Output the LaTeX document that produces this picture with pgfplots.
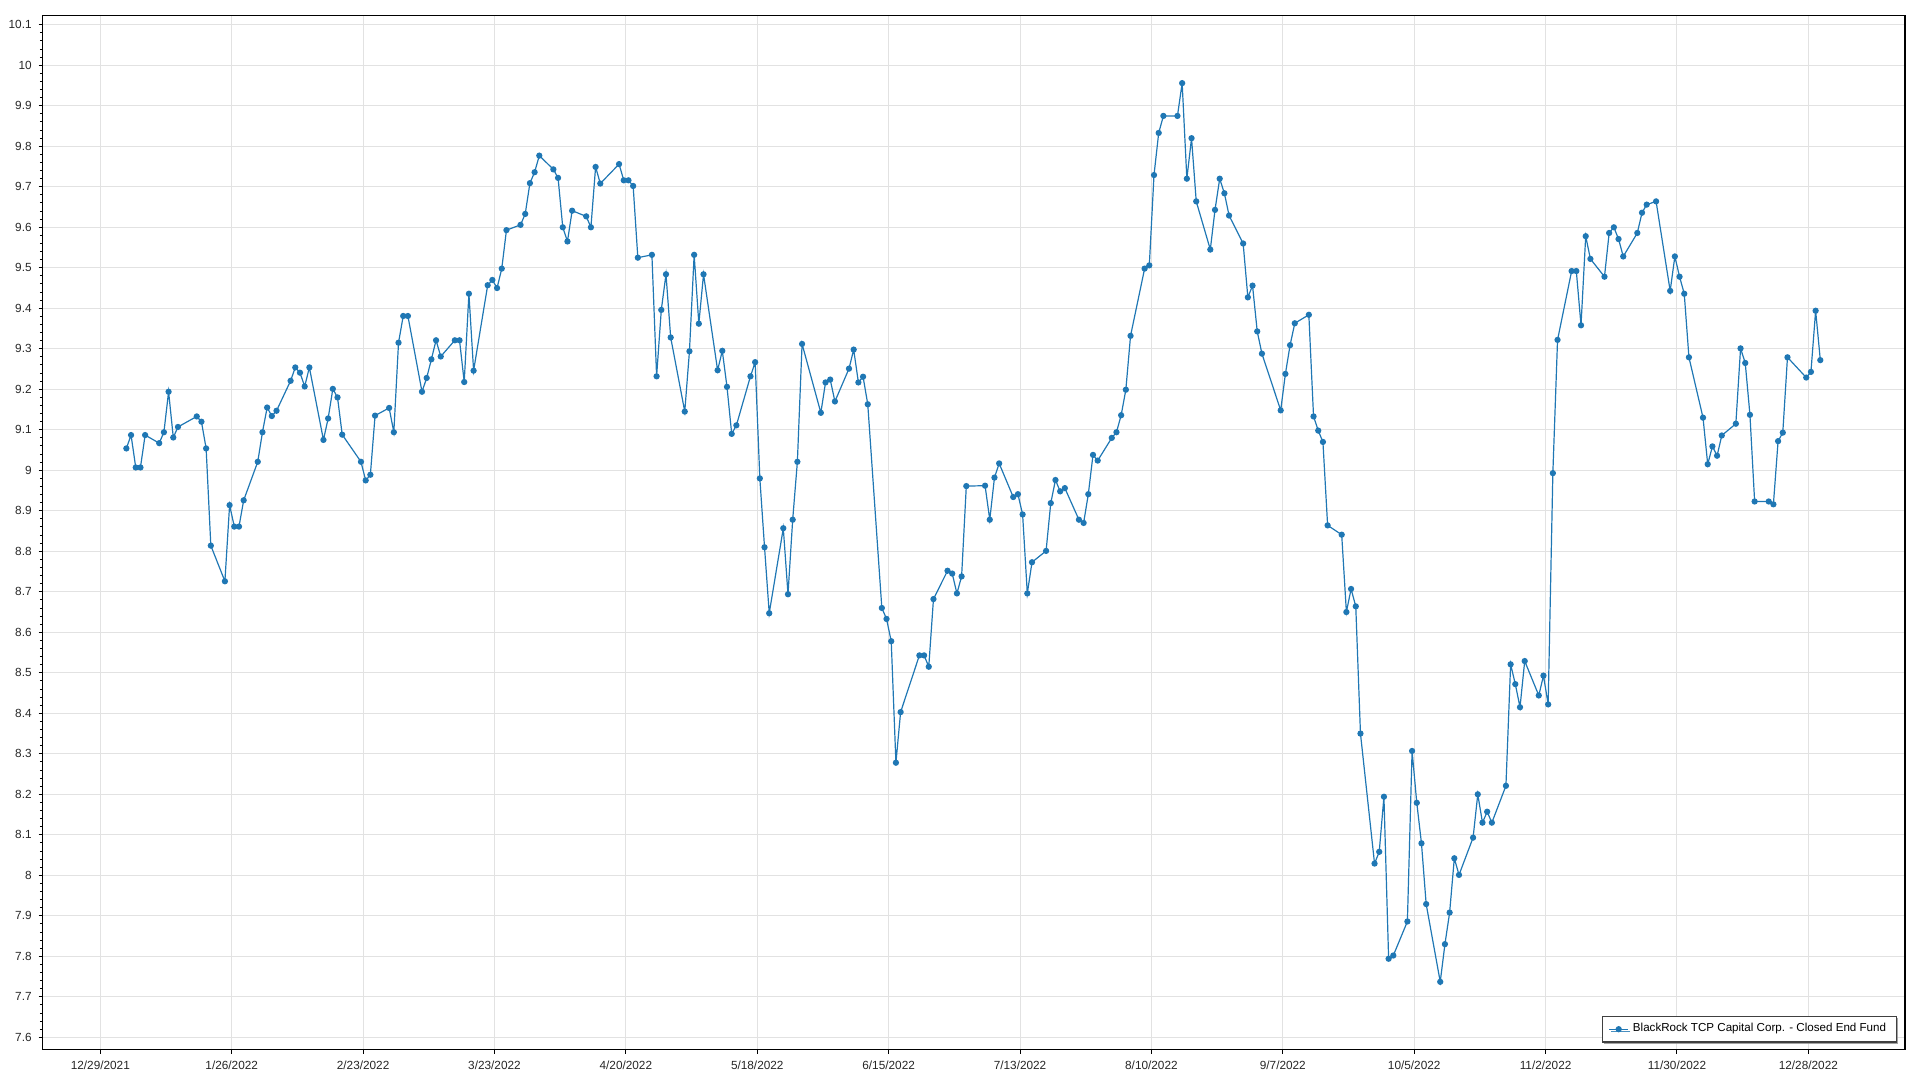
\documentclass[border=0pt]{standalone}
\usepackage{fontspec}
\setmainfont{Liberation Sans}
\usepackage{pgfplots}
\pgfplotsset{compat=1.18}
\usepackage{pgfplotstable}
\usetikzlibrary{shadows}
\definecolor{series}{RGB}{31,119,180}
\definecolor{gridc}{RGB}{226,226,226}

\pgfplotstableread{
d v
5 9.054
6 9.087
7 9.007
8 9.007
9 9.087
12 9.067
13 9.094
14 9.194
15 9.081
16 9.107
20 9.133
21 9.120
22 9.054
23 8.814
26 8.726
27 8.914
28 8.861
29 8.861
30 8.926
33 9.021
34 9.094
35 9.155
36 9.134
37 9.147
40 9.221
41 9.254
42 9.241
43 9.207
44 9.254
47 9.075
48 9.128
49 9.201
50 9.180
51 9.088
55 9.021
56 8.975
57 8.989
58 9.135
61 9.154
62 9.094
63 9.315
64 9.381
65 9.381
68 9.194
69 9.228
70 9.274
71 9.321
72 9.281
75 9.321
76 9.321
77 9.218
78 9.436
79 9.246
82 9.457
83 9.470
84 9.450
85 9.498
86 9.593
89 9.606
90 9.633
91 9.709
92 9.736
93 9.777
96 9.743
97 9.722
98 9.600
99 9.565
100 9.641
103 9.627
104 9.600
105 9.749
106 9.708
110 9.756
111 9.716
112 9.716
113 9.702
114 9.525
117 9.532
118 9.232
119 9.396
120 9.484
121 9.328
124 9.145
125 9.294
126 9.532
127 9.362
128 9.484
131 9.247
132 9.295
133 9.206
134 9.090
135 9.111
138 9.232
139 9.267
140 8.980
141 8.810
142 8.647
145 8.857
146 8.694
147 8.878
148 9.021
149 9.312
153 9.142
154 9.217
155 9.224
156 9.170
159 9.251
160 9.298
161 9.217
162 9.231
163 9.163
166 8.660
167 8.633
168 8.578
169 8.278
170 8.403
174 8.543
175 8.543
176 8.515
177 8.682
180 8.752
181 8.745
182 8.696
183 8.738
184 8.961
188 8.962
189 8.878
190 8.982
191 9.017
194 8.934
195 8.941
196 8.891
197 8.696
198 8.773
201 8.801
202 8.919
203 8.976
204 8.948
205 8.956
208 8.878
209 8.870
210 8.941
211 9.038
212 9.024
215 9.080
216 9.094
217 9.136
218 9.199
219 9.332
222 9.498
223 9.506
224 9.729
225 9.833
226 9.875
229 9.875
230 9.956
231 9.720
232 9.820
233 9.664
236 9.545
237 9.643
238 9.720
239 9.684
240 9.629
243 9.560
244 9.427
245 9.456
246 9.343
247 9.288
251 9.148
252 9.238
253 9.309
254 9.363
257 9.384
258 9.133
259 9.098
260 9.070
261 8.864
264 8.841
265 8.650
266 8.707
267 8.664
268 8.350
271 8.029
272 8.058
273 8.194
274 7.794
275 7.802
278 7.886
279 8.307
280 8.179
281 8.079
282 7.929
285 7.737
286 7.830
287 7.908
288 8.042
289 8.001
292 8.093
293 8.200
294 8.130
295 8.157
296 8.130
299 8.221
300 8.521
301 8.472
302 8.415
303 8.529
306 8.444
307 8.493
308 8.422
309 8.993
310 9.322
313 9.492
314 9.492
315 9.358
316 9.578
317 9.522
320 9.478
321 9.586
322 9.600
323 9.571
324 9.528
327 9.586
328 9.636
329 9.656
331 9.664
334 9.443
335 9.528
336 9.478
337 9.436
338 9.279
341 9.130
342 9.015
343 9.059
344 9.036
345 9.086
348 9.115
349 9.301
350 9.265
351 9.137
352 8.923
355 8.923
356 8.916
357 9.072
358 9.093
359 9.279
363 9.229
364 9.243
365 9.394
366 9.272
}\datatable

\begin{document}
\begin{tikzpicture}
\begin{axis}[
  scale only axis,
  width=931.15pt, height=517pt,
  xmin=-12.28, xmax=384.6,
  ymin=7.5694, ymax=10.1225,
  xtick={0,28,56,84,112,140,168,196,224,252,280,308,336,364},
  xticklabels={12/29/2021,1/26/2022,2/23/2022,3/23/2022,4/20/2022,5/18/2022,6/15/2022,7/13/2022,8/10/2022,9/7/2022,10/5/2022,11/2/2022,11/30/2022,12/28/2022},
  ytick={7.6,7.7,7.8,7.9,8.0,8.1,8.2,8.3,8.4,8.5,8.6,8.7,8.8,8.9,9.0,9.1,9.2,9.3,9.4,9.5,9.6,9.7,9.8,9.9,10.0,10.1},
  minor y tick num=4,
  grid=major,
  major grid style={gridc, line width=0.5pt},
  tick align=outside,
  tick pos=left,
  major tick length=2pt,
  minor tick length=1.4pt,
  tick style={black, line width=0.5pt},
  axis line style={black, line width=0.75pt},
  ticklabel style={font=\fontsize{5.9}{7}\selectfont, text=black!85},
  /pgf/number format/assume math mode=true,
  yticklabel style={/pgf/number format/fixed, /pgf/number format/precision=1},
  legend style={at={(axis description cs:1,0)}, anchor=south east, xshift=-4.15pt, yshift=3.5pt,
    draw=black!75, line width=0.6pt, fill=white, font=\fontsize{5.8}{7}\selectfont,
    inner xsep=3pt, inner ysep=1.6pt,
    drop shadow={shadow xshift=1pt, shadow yshift=-1pt, fill=black!45, opacity=0.8}},
  legend cell align=left,
  legend image code/.code={\draw[mark repeat=2,mark phase=2] plot coordinates {(0cm,0cm) (0.17cm,0cm) (0.34cm,0cm)};},
]
\addplot[series, line width=0.6pt, mark=*, mark size=1.25pt, mark options={fill=series, draw=series}]
  table[x expr=\thisrow{d}+0.55, y=v] {\datatable};
\addlegendentry{BlackRock TCP Capital Corp. - Closed End Fund}
\end{axis}
\pgfresetboundingbox
\path[use as bounding box] ([xshift=-21.35pt, yshift=-15.15pt]current axis.south west) rectangle ([xshift=7.5pt, yshift=7.85pt]current axis.north east);
\end{tikzpicture}
\end{document}
